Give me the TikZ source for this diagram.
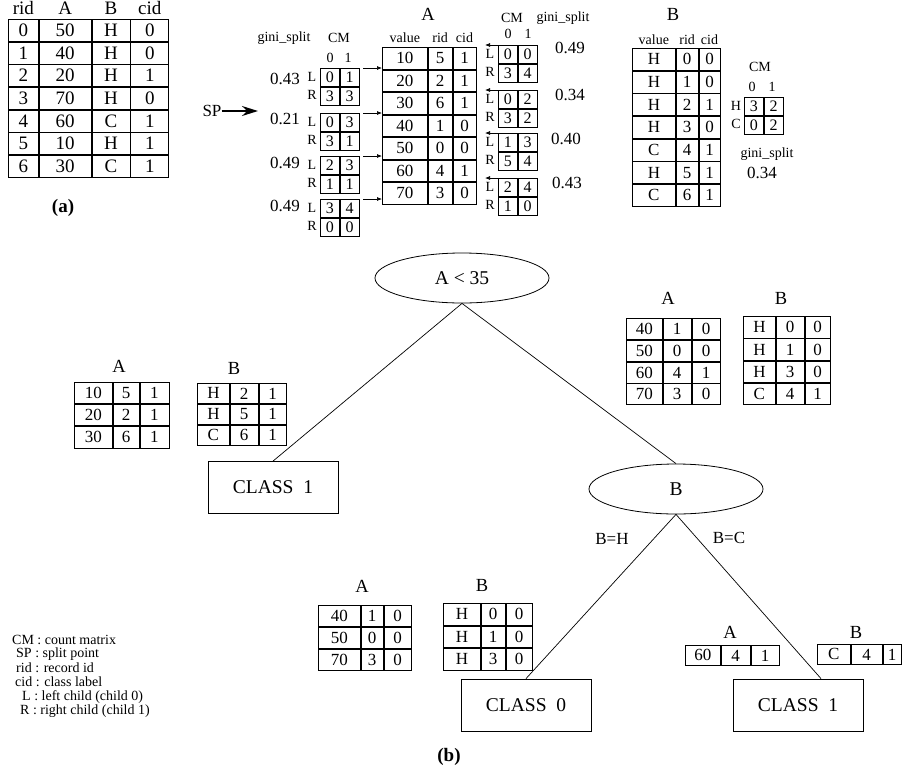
\documentclass[tikz,border=0pt]{standalone}
\usepackage{fontspec}
\setmainfont{Liberation Serif}
\usetikzlibrary{matrix,arrows.meta,calc,shapes.geometric}

% type sizes
\newcommand\fsSmall{\fontsize{14}{15}\selectfont}
\newcommand\fsCell{\fontsize{16}{17}\selectfont}
\newcommand\fsVal{\fontsize{17}{19}\selectfont}
\newcommand\fsTabA{\fontsize{19}{21}\selectfont}
\newcommand\fsTitle{\fontsize{18.5}{20}\selectfont}
\newcommand\fsBig{\fontsize{19.5}{22}\selectfont}

\tikzset{
  tbl/.style={matrix of nodes, ampersand replacement=\&, inner sep=0pt, outer sep=0pt,
    row sep=0pt, column sep=0pt, anchor=north west,
    nodes={draw, line width=0.8pt, inner sep=0pt, outer sep=0pt,
           minimum height=#1, font=\fsVal, anchor=center}},
  wtwo/.style n args={2}{column 1/.style={nodes={minimum width=#1}},
                         column 2/.style={nodes={minimum width=#2}}},
  wthree/.style n args={3}{column 1/.style={nodes={minimum width=#1}},
                           column 2/.style={nodes={minimum width=#2}},
                           column 3/.style={nodes={minimum width=#3}}},
  wfour/.style n args={4}{column 1/.style={nodes={minimum width=#1}},
                          column 2/.style={nodes={minimum width=#2}},
                          column 3/.style={nodes={minimum width=#3}},
                          column 4/.style={nodes={minimum width=#4}}},
  hd/.style={font=\fsSmall, inner sep=0pt},
  lab/.style={font=\fsSmall, inner sep=0pt},
  val/.style={font=\fsVal, inner sep=0pt},
  ttl/.style={font=\fsTitle, inner sep=0pt},
  leg/.style={font=\fsSmall, inner sep=0pt, anchor=west},
  leaf/.style={draw, line width=0.8pt, minimum width=130pt, minimum height=52pt,
               inner sep=0pt, font=\fsBig},
  test/.style={draw, ellipse, line width=0.8pt, minimum width=174pt,
               minimum height=50pt, inner sep=0pt, font=\fsBig},
  edge/.style={line width=0.7pt},
  sarrow/.style={-{Latex[length=5pt,width=4pt]}, line width=0.7pt},
}

% 2x2 count matrix with row labels
\newcommand\cmbox[7]{%
  \matrix (#1) [tbl=18pt, wtwo={19pt}{19pt}, nodes={font=\fsCell}] at (#2,#3) {#6\\#7\\};
  \node[lab] (#1-rl1) at ($(#1.north west)+(-8,9)$) {#4};
  \node[lab] (#1-rl2) at ($(#1.north west)+(-8,27)$) {#5};
}

\begin{document}
\begin{tikzpicture}[x=1pt,y=-1pt]
\useasboundingbox (0,0) rectangle (903,772);

% ---------------- (a) training set ----------------
\matrix (tS) [tbl=21.86pt, wfour={30pt}{52pt}{38pt}{38pt}, nodes={font=\fsTabA}] at (8,19) {
0 \& 50 \& H \& 0\\
1 \& 40 \& H \& 0\\
2 \& 20 \& H \& 1\\
3 \& 70 \& H \& 0\\
4 \& 60 \& C \& 1\\
5 \& 10 \& H \& 1\\
6 \& 30 \& C \& 1\\
};
\node[font=\fsTabA, inner sep=0pt] (hS1) at ($(tS-1-1.north)+(0,-11)$) {rid};
\node[font=\fsTabA, inner sep=0pt] (hS2) at ($(tS-1-2.north)+(0,-11)$) {A};
\node[font=\fsTabA, inner sep=0pt] (hS3) at ($(tS-1-3.north)+(0,-11)$) {B};
\node[font=\fsTabA, inner sep=0pt] (hS4) at ($(tS-1-4.north)+(0,-11)$) {cid};
\node[font=\fsTabA\bfseries, inner sep=0pt] (capa) at (63,208) {(a)};

% ---------------- attribute list A ----------------
\node[ttl] (tAt) at (428,14) {A};
\matrix (tA) [tbl=21.7pt, wthree={45pt}{24pt}{23pt}] at (382,47) {
10 \& 5 \& 1\\
20 \& 2 \& 1\\
30 \& 6 \& 1\\
40 \& 1 \& 0\\
50 \& 0 \& 0\\
60 \& 4 \& 1\\
70 \& 3 \& 0\\
};
\node[hd] (hA1) at ($(tA-1-1.north)+(0,-10)$) {value};
\node[hd] (hA2) at ($(tA-1-2.north)+(0,-10)$) {rid};
\node[hd] (hA3) at ($(tA-1-3.north)+(0,-10)$) {cid};

% left-hand count matrices (child 0 = below the split)
\node[hd] (gL) at (284,38) {gini\_split};
\node[hd] (cmL) at (339,38) {CM};
\node[hd] (cL0) at (330,58) {0};
\node[hd] (cL1) at (348,58) {1};
\cmbox{mL1}{320}{68}{L}{R}{0 \& 1}{3 \& 3}
\cmbox{mL2}{320}{113}{L}{R}{0 \& 3}{3 \& 1}
\cmbox{mL3}{320}{156}{L}{R}{2 \& 3}{1 \& 1}
\cmbox{mL4}{320}{199}{L}{R}{3 \& 4}{0 \& 0}
\node[val] (gL1) at (285,79) {0.43};
\node[val] (gL2) at (285,119) {0.21};
\node[val] (gL3) at (285,163) {0.49};
\node[val] (gL4) at (285,206) {0.49};
\foreach \i/\yy in {1/68,2/113,3/156,4/199}{
  \coordinate (la\i) at (363,\yy);
  \draw[sarrow] (la\i) -- (la\i -| tA.west);
}
\node[font=\fsVal, inner sep=0pt] (sp) at (212,111) {SP};
\coordinate (spEnd) at (258,111);
\draw[line width=1.8pt, -{Stealth[length=16pt,width=10pt]}] (sp.east) -- (spEnd);

% right-hand count matrices
\node[hd] (cmR) at (512,18) {CM};
\node[hd] (gR) at (563,18) {gini\_split};
\node[hd] (cR0) at (508,34) {0};
\node[hd] (cR1) at (528,34) {1};
\cmbox{mR1}{498}{45}{L}{R}{0 \& 0}{3 \& 4}
\cmbox{mR2}{498}{90}{L}{R}{0 \& 2}{3 \& 2}
\cmbox{mR3}{498}{133}{L}{R}{1 \& 3}{5 \& 4}
\cmbox{mR4}{498}{178}{L}{R}{2 \& 4}{1 \& 0}
\node[val] (gR1) at (570,48) {0.49};
\node[val] (gR2) at (570,95) {0.34};
\node[val] (gR3) at (566,139) {0.40};
\node[val] (gR4) at (567,183) {0.43};
\foreach \i in {1,2,3,4}{
  \coordinate (ra\i) at ($(mR\i.north west)+(-13,0)$);
  \draw[sarrow] (mR\i.north west) -- (ra\i);
}

% ---------------- attribute list B ----------------
\node[ttl] (tBt) at (673,14) {B};
\matrix (tB) [tbl=21.86pt, wthree={43pt}{22pt}{21pt}] at (632,48) {
H \& 0 \& 0\\
H \& 1 \& 0\\
H \& 2 \& 1\\
H \& 3 \& 0\\
C \& 4 \& 1\\
H \& 5 \& 1\\
C \& 6 \& 1\\
};
\node[hd] (hB1) at ($(tB-1-1.north)+(0,-9)$) {value};
\node[hd] (hB2) at ($(tB-1-2.north)+(0,-9)$) {rid};
\node[hd] (hB3) at ($(tB-1-3.north)+(0,-9)$) {cid};
\node[hd] (cmB) at (760,67) {CM};
\node[hd] (cB0) at (752,87) {0};
\node[hd] (cB1) at (772,87) {1};
\cmbox{mB}{744}{97}{H}{C}{3 \& 2}{0 \& 2}
\node[hd] (gB) at (767,154) {gini\_split};
\node[val] (gB1) at (762,173) {0.34};

% ---------------- (b) decision tree ----------------
\node[test] (root) at (462,278) {A < 35};
\node[leaf] (c1l) at (273,487.5) {CLASS\ \ 1};
\node[test] (bn) at (676,489) {B};
\node[leaf] (c0) at (526,705) {CLASS\ \ 0};
\node[leaf] (c1r) at (798,705) {CLASS\ \ 1};
\draw[edge] (root.south) -- (c1l.north);
\draw[edge] (root.south) -- (bn.north);
\draw[edge] (bn.south) -- (c0.north);
\draw[edge] (bn.south) -- ([xshift=23pt]c1r.north);
\node[val] (eH) at (612,539) {B=H};
\node[val] (eC) at (729,538) {B=C};

% lists held by the left child of the root
\node[ttl] (lAt) at (119,366) {A};
\matrix (lA) [tbl=21.3pt, wthree={38pt}{26pt}{29pt}] at (74,382) {
10 \& 5 \& 1\\
20 \& 2 \& 1\\
30 \& 6 \& 1\\
};
\node[ttl] (lBt) at (234,368) {B};
\matrix (lB) [tbl=20pt, wthree={32pt}{28pt}{27pt}] at (197,383) {
H \& 2 \& 1\\
H \& 5 \& 1\\
C \& 6 \& 1\\
};

% lists held by the right child of the root
\node[ttl] (rAt) at (668,298) {A};
\matrix (rA) [tbl=21pt, wthree={36pt}{28pt}{28pt}] at (626,318) {
40 \& 1 \& 0\\
50 \& 0 \& 0\\
60 \& 4 \& 1\\
70 \& 3 \& 0\\
};
\node[ttl] (rBt) at (781,298) {B};
\matrix (rB) [tbl=21.5pt, wthree={32pt}{28pt}{25pt}] at (743,316) {
H \& 0 \& 0\\
H \& 1 \& 0\\
H \& 3 \& 0\\
C \& 4 \& 1\\
};

% lists for B=H
\node[ttl] (hAt) at (362,586) {A};
\matrix (hA) [tbl=21pt, wthree={42pt}{22pt}{27pt}] at (318,605) {
40 \& 1 \& 0\\
50 \& 0 \& 0\\
70 \& 3 \& 0\\
};
\node[ttl] (hBt) at (482,585) {B};
\matrix (hB) [tbl=21.7pt, wthree={37pt}{24pt}{26pt}] at (443,603) {
H \& 0 \& 0\\
H \& 1 \& 0\\
H \& 3 \& 0\\
};

% lists for B=C
\node[ttl] (kAt) at (730,632) {A};
\matrix (kA) [tbl=20pt, wthree={35pt}{29pt}{28pt}] at (685,645) {
60 \& 4 \& 1\\
};
\node[ttl] (kBt) at (856,632) {B};
\matrix (kB) [tbl=20pt, wthree={33pt}{31pt}{18pt}] at (817,644) {
C \& 4 \& 1\\
};

% legend
\node[leg] (lg1) at (12,640) {CM : count matrix};
\node[leg] (lg2) at (16,654) {SP : split point};
\node[leg] (lg3) at (16,668) {rid : record id};
\node[leg] (lg4) at (15,682) {cid : class label};
\node[leg] (lg5) at (22,697) {L : left child (child 0)};
\node[leg] (lg6) at (20,711) {R : right child (child 1)};

\node[font=\fsTabA\bfseries, inner sep=0pt] (capb) at (449,757) {(b)};
\end{tikzpicture}
\end{document}
